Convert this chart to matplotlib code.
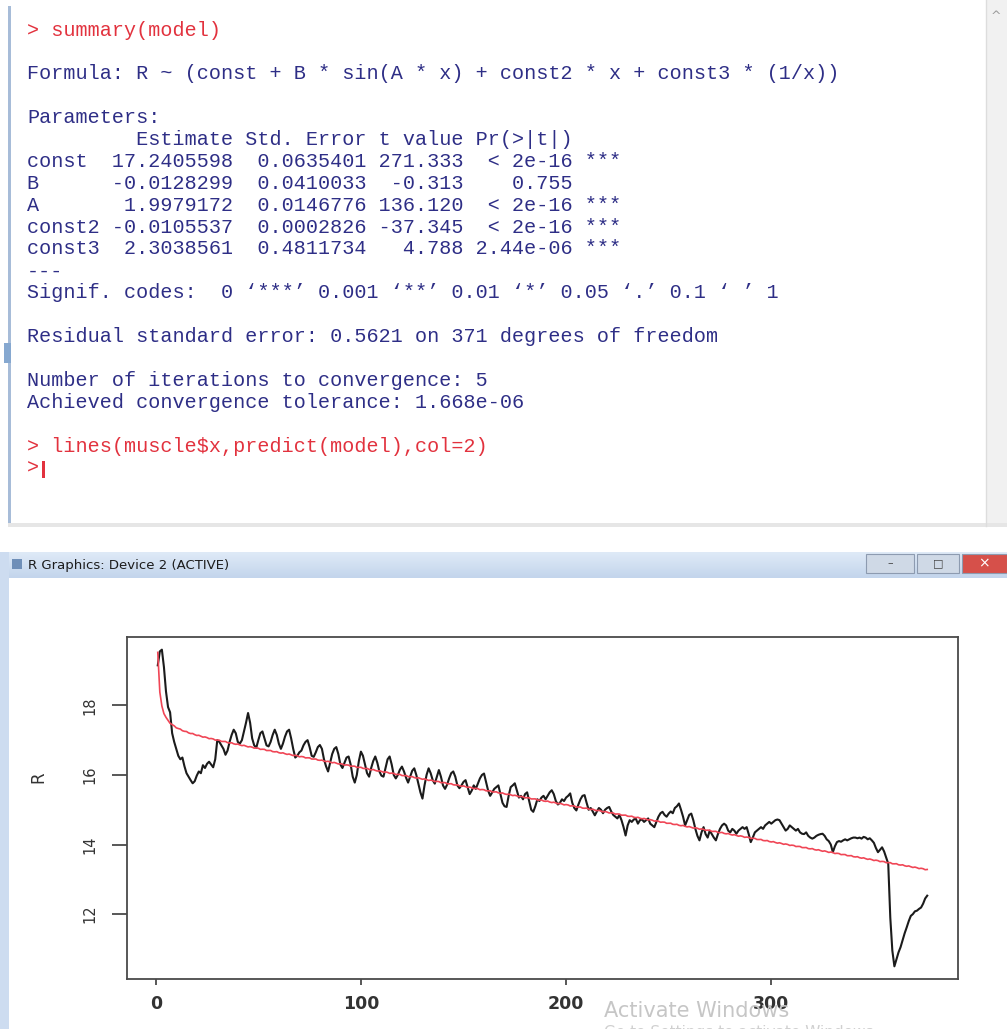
import numpy as np
import matplotlib
matplotlib.use('Agg')
import matplotlib.pyplot as plt
from matplotlib.patches import Rectangle
from matplotlib.colors import LinearSegmentedColormap

W, H = 1007, 1029

# nls fit of R against x
param_names = ['const', 'B', 'A', 'const2', 'const3']
estimates = [17.2405598, -0.0128299, 1.9979172, -0.0105537, 2.3038561]
std_errors = [0.0635401, 0.0410033, 0.0146776, 0.0002826, 0.4811734]
t_values = [271.333, -0.313, 136.120, -37.345, 4.788]
p_values = ['< 2e-16', '0.755', '< 2e-16', '< 2e-16', '2.44e-06']
signif = ['***', '', '***', '***', '***']

# muscle$R, one reading per x = 1..376
muscle_r = [
    19.15, 19.55, 19.60, 19.10, 18.40, 17.95, 17.80, 17.20, 16.95, 16.75,
    16.55, 16.45, 16.50, 16.25, 16.05, 15.95, 15.85, 15.76, 15.82, 15.98,
    16.10, 16.05, 16.28, 16.20, 16.32, 16.38, 16.30, 16.22, 16.45, 17.00,
    16.95, 16.85, 16.75, 16.58, 16.70, 16.95, 17.15, 17.30, 17.20, 16.95,
    16.90, 17.00, 17.25, 17.50, 17.78, 17.50, 17.05, 16.85, 16.78, 17.00,
    17.20, 17.25, 17.05, 16.85, 16.82, 16.95, 17.15, 17.30, 17.15, 16.90,
    16.75, 16.90, 17.10, 17.25, 17.30, 17.05, 16.75, 16.50, 16.55, 16.65,
    16.70, 16.85, 16.95, 17.00, 16.80, 16.55, 16.52, 16.65, 16.80, 16.86,
    16.75, 16.45, 16.25, 16.10, 16.35, 16.60, 16.75, 16.80, 16.60, 16.30,
    16.20, 16.35, 16.50, 16.53, 16.30, 15.95, 15.78, 16.00, 16.40, 16.67,
    16.55, 16.30, 16.05, 15.95, 16.20, 16.40, 16.53, 16.35, 16.10, 15.98,
    15.95, 16.20, 16.45, 16.53, 16.30, 16.00, 15.90, 16.00, 16.15, 16.24,
    16.10, 15.92, 15.78, 15.95, 16.12, 16.19, 16.00, 15.75, 15.50, 15.32,
    15.70, 16.00, 16.19, 16.05, 15.85, 15.75, 15.95, 16.14, 15.95, 15.70,
    15.60, 15.72, 15.90, 16.05, 16.10, 15.95, 15.70, 15.62, 15.70, 15.80,
    15.85, 15.65, 15.45, 15.55, 15.70, 15.60, 15.75, 15.90, 16.00, 16.04,
    15.80, 15.55, 15.40, 15.50, 15.60, 15.65, 15.70, 15.45, 15.20, 15.10,
    15.08, 15.40, 15.65, 15.70, 15.76, 15.55, 15.35, 15.40, 15.30, 15.45,
    15.50, 15.25, 15.00, 14.94, 15.10, 15.30, 15.25, 15.35, 15.40, 15.30,
    15.40, 15.50, 15.56, 15.45, 15.25, 15.15, 15.20, 15.30, 15.25, 15.35,
    15.40, 15.47, 15.20, 15.05, 14.98, 15.15, 15.30, 15.40, 15.42, 15.20,
    15.00, 15.05, 14.95, 14.84, 14.95, 15.05, 15.00, 14.90, 15.00, 15.05,
    15.08, 14.95, 14.85, 14.80, 14.75, 14.85, 14.70, 14.50, 14.26, 14.55,
    14.70, 14.65, 14.72, 14.74, 14.60, 14.70, 14.72, 14.65, 14.70, 14.75,
    14.60, 14.55, 14.50, 14.65, 14.80, 14.90, 14.94, 14.85, 14.80, 14.89,
    14.95, 14.90, 15.05, 15.10, 15.18, 15.00, 14.80, 14.55, 14.70, 14.85,
    14.89, 14.70, 14.45, 14.25, 14.12, 14.35, 14.50, 14.30, 14.20, 14.40,
    14.30, 14.20, 14.12, 14.30, 14.45, 14.55, 14.60, 14.55, 14.40, 14.35,
    14.45, 14.40, 14.31, 14.40, 14.45, 14.50, 14.45, 14.50, 14.30, 14.07,
    14.20, 14.35, 14.40, 14.45, 14.50, 14.45, 14.55, 14.60, 14.65, 14.60,
    14.65, 14.70, 14.72, 14.70, 14.60, 14.50, 14.40, 14.45, 14.55, 14.50,
    14.45, 14.40, 14.45, 14.35, 14.31, 14.30, 14.35, 14.25, 14.20, 14.17,
    14.20, 14.25, 14.28, 14.30, 14.31, 14.25, 14.15, 14.10, 14.00, 13.78,
    13.95, 14.07, 14.10, 14.08, 14.12, 14.15, 14.12, 14.15, 14.18, 14.20,
    14.20, 14.18, 14.20, 14.17, 14.22, 14.20, 14.15, 14.18, 14.12, 14.05,
    13.90, 13.78, 13.85, 13.92, 13.80, 13.62, 13.45, 11.90, 10.95, 10.50,
    10.70, 10.90, 11.05, 11.25, 11.45, 11.62, 11.80, 11.95, 12.00, 12.08,
    12.10, 12.15, 12.19, 12.30, 12.45, 12.53,
]
muscle_x = np.arange(1, len(muscle_r) + 1)

x_ticks = [0, 100, 200, 300]
y_ticks = [12, 14, 16, 18]

# predict(model)
const, B, A, const2, const3 = estimates
fitted = const + B * np.sin(A * muscle_x) + const2 * muscle_x + const3 * (1 / muscle_x)

blue = '#2e2e86'
red = '#e2323e'
mono = 'Liberation Mono'

fig = plt.figure(figsize=(W / 100, H / 100), dpi=100)
fig.patch.set_facecolor('white')

# pixel-space canvas for the console and window chrome
bg = fig.add_axes([0, 0, 1, 1])
bg.set_xlim(0, W)
bg.set_ylim(H, 0)
bg.axis('off')

# ---- console window ----
bg.add_patch(Rectangle((8, 6), 3, 520, color='#a7bcd8', lw=0))
bg.add_patch(Rectangle((4, 343), 7, 20, color='#86a8d0', lw=0))
bg.add_patch(Rectangle((986, 0), 21, 526, color='#f1f1f1', lw=0))
bg.plot([986, 986], [0, 526], color='#dddddd', lw=1)
bg.text(996, 17, '^', family='DejaVu Sans', size=9, color='#9a9a9a', ha='center', va='center')
bg.add_patch(Rectangle((8, 523), 999, 4, color='#e6e6e6', lw=0))

header = ' ' * 7 + f"{'Estimate':>10} {'Std. Error':>10} {'t value':>7} {'Pr(>|t|)':>8}"
rows = [f"{n:<6} {e:10.7f} {s:10.7f} {t:7.3f} {p:>8} {g}"
        for n, e, s, t, p, g in zip(param_names, estimates, std_errors, t_values, p_values, signif)]

console = [
    (0, '> summary(model)', red),
    (2, 'Formula: R ~ (const + B * sin(A * x) + const2 * x + const3 * (1/x))', blue),
    (4, 'Parameters:', blue),
    (5, header, blue),
]
console += [(6 + i, r, blue) for i, r in enumerate(rows)]
console += [
    (11, '---', blue),
    (12, 'Signif. codes:  0 \u2018***\u2019 0.001 \u2018**\u2019 0.01 \u2018*\u2019 0.05 \u2018.\u2019 0.1 \u2018 \u2019 1', blue),
    (14, 'Residual standard error: 0.5621 on 371 degrees of freedom', blue),
    (16, 'Number of iterations to convergence: 5', blue),
    (17, 'Achieved convergence tolerance: 1.668e-06', blue),
    (19, '> lines(muscle$x,predict(model),col=2)', red),
    (20, '>', red),
]
for k, s, c in console:
    bg.text(27, 30 + 21.9 * k, s, family=mono, size=14.5, color=c, ha='left', va='center')
# text cursor after the prompt
bg.add_patch(Rectangle((42, 461), 3, 17, color=red, lw=0))

# ---- graphics device window ----
bar = LinearSegmentedColormap.from_list('bar', ['#dfeaf7', '#c3d5ec'])
bg.imshow(np.linspace(0, 1, 32)[:, None], cmap=bar, aspect='auto',
          extent=(0, W, 578, 552), zorder=1)
bg.add_patch(Rectangle((0, 552), 9, H - 552, color='#cddcf0', lw=0))
bg.add_patch(Rectangle((12, 559), 10, 10, color='#6f8fb8', lw=0, zorder=2))
bg.text(28, 565, 'R Graphics: Device 2 (ACTIVE)', family='DejaVu Sans', size=9.5,
        color='#1c1c1c', ha='left', va='center', zorder=3)
for x0, w, fc in [(866, 48, '#cfd9e6'), (917, 42, '#cfd9e6'), (962, 45, '#d6504a')]:
    bg.add_patch(Rectangle((x0, 554), w, 19, facecolor=fc, edgecolor='#8d9bb0', lw=0.8, zorder=2))
bg.text(890, 563, '\u2013', size=8, color='#444444', ha='center', va='center', zorder=3)
bg.text(938, 563, '\u25a1', size=8, color='#444444', ha='center', va='center', zorder=3)
bg.text(984, 563, '\u00d7', size=10, color='white', ha='center', va='center', zorder=3)

# ---- the plot ----
ax = fig.add_axes([127 / W, 1 - 979 / H, (958 - 127) / W, (979 - 637) / H])
ax.plot(muscle_x, muscle_r, color='#1b1b1b', lw=1.5)
ax.plot(muscle_x, fitted, color='#f04656', lw=1.2)

xr = muscle_x.max() - muscle_x.min()
yr = max(muscle_r) - min(muscle_r)
ax.set_xlim(muscle_x.min() - 0.04 * xr, muscle_x.max() + 0.04 * xr)
ax.set_ylim(min(muscle_r) - 0.04 * yr, max(muscle_r) + 0.04 * yr)

for sp in ax.spines.values():
    sp.set_color('#4a4a4a')
    sp.set_linewidth(1.3)

ax.set_xticks(x_ticks)
ax.set_xticklabels([str(v) for v in x_ticks], fontweight='bold', fontsize=12.5, color='#333333')
ax.tick_params(axis='x', length=4.5, width=1.3, color='#4a4a4a', pad=7)

ax.set_yticks(y_ticks)
ax.set_yticklabels([str(v) for v in y_ticks], rotation=90, va='center', fontsize=10.5, color='#333333')
ax.tick_params(axis='y', length=10.5, width=1.3, color='#4a4a4a', pad=11)

ax.set_ylabel('R', fontsize=12, color='#333333')
ax.yaxis.set_label_coords(-0.107, 0.59)
ax.yaxis.label.set_va('center')

# watermark over the bottom of the window
fig.text(604 / W, 1 - 1011 / H, 'Activate Windows', family='DejaVu Sans', size=15,
         color='#c6c6c6', ha='left', va='center')
fig.text(604 / W, 1 - 1032 / H, 'Go to Settings to activate Windows.', family='DejaVu Sans',
         size=11, color='#d0d0d0', ha='left', va='center')

fig.savefig('out.png', dpi=100, facecolor='white')
